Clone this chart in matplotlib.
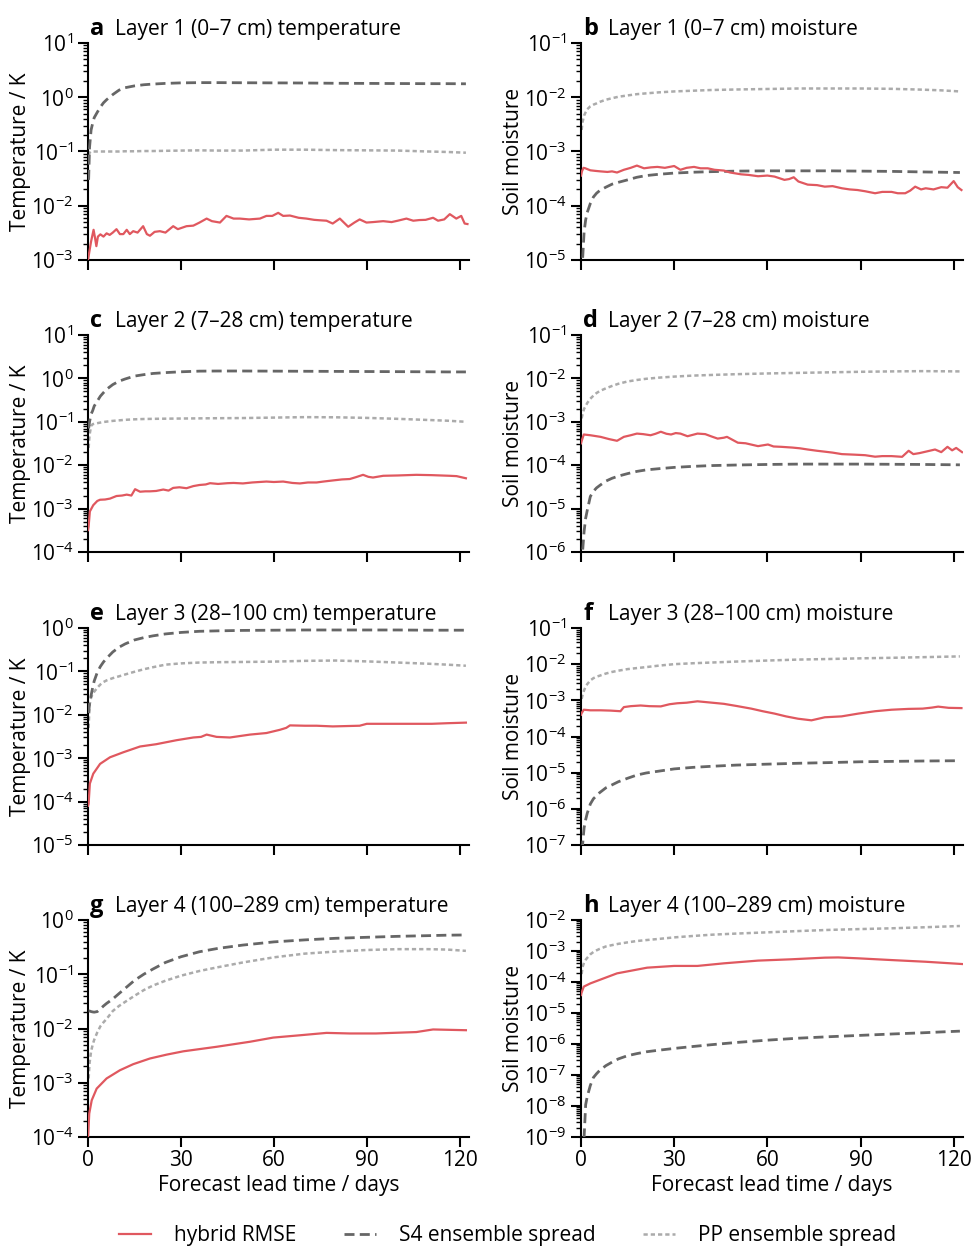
import numpy as np
import matplotlib
matplotlib.use('Agg')
import matplotlib.pyplot as plt
from matplotlib.ticker import LogLocator, NullFormatter
from matplotlib.lines import Line2D

plt.rcParams['font.family'] = ['Open Sans', 'DejaVu Sans']
plt.rcParams['mathtext.fontset'] = 'custom'
plt.rcParams['mathtext.rm'] = 'Open Sans'
plt.rcParams['mathtext.it'] = 'Open Sans:italic'
plt.rcParams['mathtext.bf'] = 'Open Sans:bold'
plt.rcParams['axes.unicode_minus'] = False

# common lead times (days) for the two ensemble spread curves
t_spread = [0.2, 0.5, 1, 1.5, 2, 3, 4, 5, 6, 8, 10, 12, 15, 18, 21, 25, 30,
            36, 42, 50, 60, 70, 80, 90, 100, 110, 116, 122]

a_s4 = [0.03, 0.12, 0.25, 0.33, 0.42, 0.53, 0.66, 0.79, 0.9, 1.12, 1.35, 1.5, 1.62, 1.7,
        1.75, 1.8, 1.84, 1.86, 1.86, 1.85, 1.84, 1.83, 1.81, 1.80, 1.79, 1.78, 1.78, 1.77]
a_pp = [0.085, 0.095, 0.1, 0.1, 0.1, 0.1, 0.1, 0.1, 0.1, 0.1, 0.1, 0.101, 0.101, 0.102,
        0.102, 0.103, 0.104, 0.105, 0.104, 0.104, 0.108, 0.108, 0.106, 0.105, 0.104, 0.1,
        0.098, 0.095]
b_s4 = [3e-6, 1e-5, 3.3e-5, 5.5e-5, 7.5e-5, 1.1e-4, 1.45e-4, 1.7e-4, 1.9e-4, 2.2e-4,
        2.5e-4, 2.7e-4, 3.0e-4, 3.35e-4, 3.6e-4, 3.8e-4, 4.0e-4, 4.15e-4, 4.25e-4, 4.35e-4,
        4.4e-4, 4.4e-4, 4.4e-4, 4.35e-4, 4.3e-4, 4.2e-4, 4.15e-4, 4.1e-4]
b_pp = [2.5e-3, 3.5e-3, 4.6e-3, 5.3e-3, 6.0e-3, 6.8e-3, 7.3e-3, 7.7e-3, 8.2e-3, 9.0e-3,
        9.6e-3, 0.0102, 0.0108, 0.0114, 0.0118, 0.0123, 0.0128, 0.0132, 0.0136, 0.0139,
        0.0142, 0.0145, 0.0145, 0.0145, 0.0143, 0.0138, 0.0134, 0.0128]
c_s4 = [0.07, 0.1, 0.15, 0.18, 0.23, 0.3, 0.39, 0.47, 0.56, 0.72, 0.86, 0.97, 1.13, 1.22,
        1.3, 1.36, 1.42, 1.47, 1.48, 1.48, 1.47, 1.46, 1.45, 1.44, 1.43, 1.42, 1.41, 1.41]
c_pp = [0.025, 0.05, 0.08, 0.088, 0.09, 0.093, 0.096, 0.099, 0.101, 0.105, 0.108, 0.111,
        0.114, 0.116, 0.117, 0.118, 0.119, 0.12, 0.121, 0.122, 0.125, 0.128, 0.127, 0.123,
        0.117, 0.11, 0.106, 0.1]
d_s4 = [1e-7, 1e-6, 3e-6, 6e-6, 9e-6, 1.9e-5, 2.5e-5, 3e-5, 3.4e-5, 4.3e-5, 5e-5, 5.6e-5,
        6.4e-5, 7.2e-5, 7.8e-5, 8.3e-5, 8.9e-5, 9.4e-5, 9.8e-5, 1.01e-4, 1.04e-4, 1.06e-4,
        1.06e-4, 1.06e-4, 1.05e-4, 1.04e-4, 1.03e-4, 1.02e-4]
d_pp = [1.2e-3, 1.5e-3, 2.0e-3, 2.3e-3, 2.7e-3, 3.4e-3, 4.0e-3, 4.6e-3, 5.1e-3, 5.9e-3,
        6.7e-3, 7.5e-3, 8.5e-3, 9.2e-3, 9.8e-3, 0.0104, 0.011, 0.0116, 0.012, 0.0125, 0.013,
        0.0134, 0.0138, 0.0142, 0.0145, 0.0147, 0.0146, 0.0145]
e_s4 = [0.011, 0.018, 0.028, 0.042, 0.06, 0.095, 0.13, 0.165, 0.2, 0.28, 0.36, 0.43, 0.53,
        0.6, 0.66, 0.73, 0.79, 0.84, 0.86, 0.88, 0.89, 0.9, 0.9, 0.9, 0.9, 0.89, 0.89, 0.89]
e_pp = [5e-3, 0.017, 0.025, 0.03, 0.034, 0.042, 0.05, 0.057, 0.062, 0.07, 0.077, 0.085,
        0.098, 0.112, 0.125, 0.143, 0.153, 0.16, 0.163, 0.165, 0.168, 0.175, 0.178, 0.17,
        0.16, 0.15, 0.143, 0.135]
f_s4 = [1e-8, 1e-7, 3e-7, 5e-7, 7.5e-7, 1.36e-6, 1.9e-6, 2.3e-6, 2.8e-6, 3.8e-6, 4.6e-6,
        5.6e-6, 7e-6, 8.6e-6, 9.8e-6, 1.1e-5, 1.27e-5, 1.4e-5, 1.5e-5, 1.62e-5, 1.72e-5,
        1.82e-5, 1.9e-5, 2.0e-5, 2.05e-5, 2.1e-5, 2.12e-5, 2.14e-5]
f_pp = [1.1e-3, 1.4e-3, 1.9e-3, 2.4e-3, 2.8e-3, 3.55e-3, 4.1e-3, 4.5e-3, 4.8e-3, 5.5e-3,
        6.1e-3, 6.6e-3, 7.3e-3, 7.8e-3, 8.3e-3, 9.1e-3, 0.01, 0.0106, 0.0111, 0.0118, 0.0126,
        0.0134, 0.0139, 0.0145, 0.015, 0.0156, 0.016, 0.0164]
g_s4 = [0.021, 0.021, 0.0205, 0.0202, 0.02, 0.0205, 0.023, 0.026, 0.029, 0.035, 0.044,
        0.055, 0.077, 0.1, 0.125, 0.165, 0.21, 0.26, 0.3, 0.345, 0.395, 0.43, 0.46, 0.48,
        0.5, 0.515, 0.525, 0.53]
g_pp = [1.2e-3, 2.3e-3, 3.8e-3, 5e-3, 6.2e-3, 8.5e-3, 0.011, 0.013, 0.015, 0.021, 0.026,
        0.031, 0.04, 0.051, 0.062, 0.076, 0.094, 0.115, 0.135, 0.165, 0.205, 0.24, 0.262,
        0.28, 0.29, 0.29, 0.285, 0.27]
h_s4 = [1e-10, 1e-10, 1e-9, 1.1e-8, 2.0e-8, 4.6e-8, 8.3e-8, 1.1e-7, 1.4e-7, 2.0e-7, 2.6e-7,
        3.3e-7, 4.2e-7, 4.9e-7, 5.6e-7, 6.3e-7, 7.2e-7, 8.3e-7, 9.5e-7, 1.12e-6, 1.33e-6,
        1.54e-6, 1.72e-6, 1.9e-6, 2.1e-6, 2.3e-6, 2.45e-6, 2.6e-6]
h_pp = [1.8e-4, 3e-4, 4.3e-4, 5.2e-4, 6e-4, 7.8e-4, 9.3e-4, 1.05e-3, 1.17e-3, 1.4e-3,
        1.55e-3, 1.7e-3, 1.9e-3, 2.1e-3, 2.25e-3, 2.45e-3, 2.75e-3, 3.05e-3, 3.35e-3,
        3.65e-3, 4.0e-3, 4.4e-3, 4.8e-3, 5.1e-3, 5.4e-3, 5.8e-3, 6.1e-3, 6.4e-3]

# hybrid RMSE, own lead times per panel
a_hyb_t = [0, 0.5, 1, 1.8, 2.3, 2.7, 3.2, 4, 5, 6, 7, 8, 9.2, 10.3, 11.4, 12.5, 13.5, 14.6,
           16, 17.8, 19, 20, 21.5, 23.2, 25, 27.5, 29, 31.8, 34, 36, 38.3, 40, 42.6, 44.7,
           47, 49, 52, 55.5, 57.6, 59.5, 61.4, 63, 65.2, 68, 70.5, 73, 74.8, 77, 79, 81.3,
           84, 86, 87.7, 89.9, 92, 95.3, 98, 100, 102.8, 105, 107, 109, 111.4, 113, 115,
           116.8, 118.9, 120.5, 121.6, 122.5]
a_hyb = [1.0e-3, 1.5e-3, 2.2e-3, 3.6e-3, 2.5e-3, 1.8e-3, 2.7e-3, 2.97e-3, 2.7e-3, 3.1e-3,
         2.9e-3, 3.2e-3, 3.7e-3, 3.0e-3, 3.0e-3, 3.6e-3, 3.0e-3, 3.4e-3, 3.2e-3, 4.2e-3,
         3.0e-3, 2.8e-3, 3.3e-3, 3.4e-3, 3.2e-3, 4.2e-3, 3.7e-3, 4.2e-3, 4.3e-3, 4.9e-3,
         5.8e-3, 5.2e-3, 4.9e-3, 6.5e-3, 5.8e-3, 5.8e-3, 5.6e-3, 5.8e-3, 6.5e-3, 6.5e-3,
         7.4e-3, 6.5e-3, 6.6e-3, 6.0e-3, 5.8e-3, 5.5e-3, 5.4e-3, 5.3e-3, 4.7e-3, 5.8e-3,
         4.1e-3, 4.9e-3, 5.6e-3, 4.9e-3, 5.0e-3, 5.2e-3, 5.0e-3, 5.3e-3, 5.8e-3, 5.3e-3,
         5.45e-3, 5.5e-3, 6.0e-3, 5.3e-3, 5.6e-3, 7.0e-3, 5.8e-3, 6.5e-3, 4.7e-3, 4.6e-3]
b_hyb_t = [0, 0.3, 0.8, 1.4, 3, 4.5, 6.3, 8.5, 10, 11.6, 13.8, 16, 18, 20.3, 22.5, 24.6, 27,
           30, 32, 34, 36.4, 38.5, 40.8, 43, 46, 48, 51.5, 54, 57, 60, 62.3, 65.5, 67, 68.5,
           70, 73, 76, 78.5, 81, 84, 86.5, 89, 91.5, 94.7, 97, 100, 102, 104.4, 106, 107.6,
           109.5, 111, 113.5, 116, 118, 120, 121.3, 122.5]
b_hyb = [3.6e-4, 4.3e-4, 5.0e-4, 4.9e-4, 4.5e-4, 4.4e-4, 4.3e-4, 4.2e-4, 4.3e-4, 4.1e-4,
         4.6e-4, 5.0e-4, 5.5e-4, 4.9e-4, 5.1e-4, 5.2e-4, 5.0e-4, 5.4e-4, 4.6e-4, 5.0e-4,
         5.2e-4, 4.9e-4, 4.9e-4, 4.6e-4, 4.45e-4, 4.1e-4, 3.8e-4, 3.7e-4, 3.5e-4, 3.6e-4,
         3.45e-4, 3.0e-4, 3.1e-4, 3.35e-4, 2.8e-4, 2.45e-4, 2.4e-4, 2.25e-4, 2.3e-4, 2.1e-4,
         2.0e-4, 1.95e-4, 1.85e-4, 1.7e-4, 1.8e-4, 1.8e-4, 1.7e-4, 1.7e-4, 1.9e-4, 2.25e-4,
         2.0e-4, 2.1e-4, 2.0e-4, 2.2e-4, 2.15e-4, 2.85e-4, 2.2e-4, 1.95e-4]
c_hyb_t = [0, 0.2, 0.6, 1.7, 3, 3.9, 5.5, 7.1, 9.2, 11, 12.5, 14, 15.2, 16.8, 18.5, 20, 22,
           24.3, 26, 27.5, 29.5, 31.8, 34, 36, 38, 39.4, 42, 45, 47, 50, 53, 57.6, 60, 63,
           66, 68.4, 71, 73.8, 76, 79, 82, 84.5, 86.5, 88.8, 90.5, 92, 95.3, 100, 106, 111,
           116.8, 119, 122]
c_hyb = [3.2e-4, 3.9e-4, 8.6e-4, 1.2e-3, 1.5e-3, 1.6e-3, 1.62e-3, 1.7e-3, 1.95e-3, 2.0e-3,
         2.1e-3, 2.0e-3, 2.8e-3, 2.45e-3, 2.5e-3, 2.5e-3, 2.55e-3, 2.75e-3, 2.6e-3, 3.0e-3,
         3.1e-3, 2.95e-3, 3.3e-3, 3.5e-3, 3.6e-3, 3.85e-3, 3.7e-3, 3.85e-3, 3.9e-3, 3.8e-3,
         4.0e-3, 4.2e-3, 4.1e-3, 4.2e-3, 3.9e-3, 3.8e-3, 4.0e-3, 4.0e-3, 4.2e-3, 4.45e-3,
         4.7e-3, 4.8e-3, 5.3e-3, 6.0e-3, 5.4e-3, 5.2e-3, 5.7e-3, 5.8e-3, 6.0e-3, 5.9e-3,
         5.7e-3, 5.6e-3, 5.0e-3]
d_hyb_t = [0, 0.2, 0.9, 3, 6.3, 9, 11.6, 13.8, 16, 18, 20, 22.4, 24, 25.7, 27.5, 29, 30.5,
           32, 34.3, 37.5, 40, 42, 44, 46, 47, 50.5, 53, 57, 60.2, 62, 64.5, 68, 70.5, 73,
           76, 78.5, 81, 84, 88, 91.5, 94.7, 97, 100, 103.4, 105.5, 107, 109, 111, 114, 116,
           118, 119.5, 120.8, 122.7]
d_hyb = [3.2e-4, 3.6e-4, 5.1e-4, 4.9e-4, 4.5e-4, 4.0e-4, 3.65e-4, 4.5e-4, 4.9e-4, 5.35e-4,
         5.2e-4, 4.9e-4, 5.3e-4, 5.9e-4, 5.3e-4, 5.1e-4, 5.5e-4, 5.35e-4, 4.65e-4, 5.35e-4,
         5.2e-4, 4.6e-4, 4.1e-4, 4.3e-4, 4.5e-4, 3.3e-4, 3.2e-4, 2.75e-4, 3.0e-4, 2.7e-4,
         2.65e-4, 2.55e-4, 2.45e-4, 2.3e-4, 2.15e-4, 2.05e-4, 1.95e-4, 1.8e-4, 1.75e-4,
         1.7e-4, 1.57e-4, 1.62e-4, 1.62e-4, 1.56e-4, 2.15e-4, 1.8e-4, 1.9e-4, 2.05e-4,
         2.3e-4, 2.0e-4, 2.65e-4, 2.2e-4, 2.5e-4, 2.0e-4]
e_hyb_t = [0, 0.2, 0.6, 1.7, 3.9, 7.1, 11.4, 16.8, 22, 28.6, 34, 36.5, 38.3, 41.5, 45.8,
           52.3, 57.6, 61.9, 64, 65.2, 70, 73.8, 79, 87.7, 90, 100.6, 111, 116, 122]
e_hyb = [8e-5, 9e-5, 2.6e-4, 4.4e-4, 7.4e-4, 1.05e-3, 1.37e-3, 1.86e-3, 2.1e-3, 2.6e-3,
         3.0e-3, 3.1e-3, 3.5e-3, 3.1e-3, 3.0e-3, 3.5e-3, 3.8e-3, 4.5e-3, 5.0e-3, 5.7e-3,
         5.6e-3, 5.6e-3, 5.4e-3, 5.6e-3, 6.2e-3, 6.2e-3, 6.2e-3, 6.4e-3, 6.6e-3]
f_hyb_t = [0, 0.1, 0.9, 3, 6.3, 9.5, 12.7, 13.8, 16, 19.2, 22, 25.7, 28.5, 31, 34, 37.5, 41,
           46, 50, 54.8, 58.5, 62.3, 66, 69.9, 74.2, 78.5, 83.9, 89.3, 94.7, 100, 105.5, 110,
           113, 115, 118.4, 122.5]
f_hyb = [4.0e-4, 4.3e-4, 5.5e-4, 5.3e-4, 5.3e-4, 5.2e-4, 5.0e-4, 6.5e-4, 6.9e-4, 7.2e-4,
         6.9e-4, 6.8e-4, 7.8e-4, 8.3e-4, 8.6e-4, 9.4e-4, 8.8e-4, 8.0e-4, 7.0e-4, 5.9e-4,
         5.0e-4, 4.3e-4, 3.6e-4, 3.1e-4, 2.8e-4, 3.4e-4, 3.6e-4, 4.3e-4, 5.0e-4, 5.5e-4,
         5.8e-4, 5.9e-4, 6.3e-4, 6.7e-4, 6.2e-4, 6.1e-4]
g_hyb_t = [0, 0.1, 0.4, 1.2, 2.8, 6, 10.3, 14.6, 20, 25.4, 30.8, 41.5, 52.3, 59.8, 68.4, 77,
           84.5, 93, 106, 111.4, 122]
g_hyb = [1.0e-4, 1.2e-4, 2.7e-4, 4.75e-4, 7.8e-4, 1.2e-3, 1.7e-3, 2.2e-3, 2.8e-3, 3.3e-3,
         3.8e-3, 4.6e-3, 5.7e-3, 6.8e-3, 7.5e-3, 8.3e-3, 8.1e-3, 8.1e-3, 8.6e-3, 9.6e-3,
         9.3e-3]
h_hyb_t = [0, 0.1, 0.9, 3, 6.3, 11.6, 16, 21.3, 30, 37.5, 46, 57, 67.7, 78.5, 82.8, 89.3,
           100, 111, 122.7]
h_hyb = [3.8e-5, 4.3e-5, 7.1e-5, 9.0e-5, 1.2e-4, 1.9e-4, 2.3e-4, 2.9e-4, 3.3e-4, 3.3e-4,
         4.0e-4, 4.9e-4, 5.4e-4, 6.1e-4, 6.2e-4, 5.8e-4, 5.1e-4, 4.5e-4, 3.8e-4]

letters = ['a', 'b', 'c', 'd', 'e', 'f', 'g', 'h']
titles = ['Layer 1 (0\u20137 cm) temperature', 'Layer 1 (0\u20137 cm) moisture',
          'Layer 2 (7\u201328 cm) temperature', 'Layer 2 (7\u201328 cm) moisture',
          'Layer 3 (28\u2013100 cm) temperature', 'Layer 3 (28\u2013100 cm) moisture',
          'Layer 4 (100\u2013289 cm) temperature', 'Layer 4 (100\u2013289 cm) moisture']
ylims = [(1e-3, 1e1), (1e-5, 1e-1), (1e-4, 1e1), (1e-6, 1e-1),
         (1e-5, 1e0), (1e-7, 1e-1), (1e-4, 1e0), (1e-9, 1e-2)]

hyb_t = [a_hyb_t, b_hyb_t, c_hyb_t, d_hyb_t, e_hyb_t, f_hyb_t, g_hyb_t, h_hyb_t]
hyb = [a_hyb, b_hyb, c_hyb, d_hyb, e_hyb, f_hyb, g_hyb, h_hyb]
s4 = [a_s4, b_s4, c_s4, d_s4, e_s4, f_s4, g_s4, h_s4]
pp = [a_pp, b_pp, c_pp, d_pp, e_pp, f_pp, g_pp, h_pp]

red = '#e0585f'
dark = '#666666'
light = '#ababab'
fs = 15

W, H = 971, 1247
fig = plt.figure(figsize=(W / 100, H / 100), dpi=100)

col_x = [88, 581]
col_w = [381, 382]
row_top = [43, 335, 628, 920]
row_h = 217

for i in range(8):
    r, c = i // 2, i % 2
    ax = fig.add_axes([col_x[c] / W, 1 - (row_top[r] + row_h) / H, col_w[c] / W, row_h / H])

    ax.plot(t_spread, pp[i], color=light, lw=1.8, dashes=(1.7, 1.2), zorder=2)
    ax.plot(t_spread, s4[i], color=dark, lw=2.0, dashes=(3.6, 1.9), zorder=3)
    ax.plot(hyb_t[i], hyb[i], color=red, lw=1.6, zorder=4)

    ax.set_yscale('log')
    ax.set_ylim(ylims[i])
    ax.set_xlim(0, 123)
    ax.set_xticks([0, 30, 60, 90, 120])
    ax.yaxis.set_major_locator(LogLocator(base=10, numticks=20))
    ax.yaxis.set_minor_locator(LogLocator(base=10, subs=np.arange(2, 10), numticks=200))
    ax.yaxis.set_minor_formatter(NullFormatter())

    for s in ['top', 'right']:
        ax.spines[s].set_visible(False)
    for s in ['left', 'bottom']:
        ax.spines[s].set_linewidth(1.5)
    ax.tick_params(which='major', length=7.5, width=1.5, labelsize=fs, pad=2)
    ax.tick_params(which='minor', length=3.5, width=1.0)
    ax.tick_params(axis='y', which='major', pad=3)

    if r < 3:
        ax.tick_params(labelbottom=False)
    else:
        ax.set_xlabel('Forecast lead time / days', fontsize=fs, labelpad=3)

    ax.set_ylabel('Temperature / K' if c == 0 else 'Soil moisture', fontsize=fs)
    ax.yaxis.set_label_coords(-0.15, 0.5)

    ax.text(0.006, 1.035, letters[i], transform=ax.transAxes, fontsize=17,
            fontweight='bold', va='baseline', ha='left')
    ax.text(0.07, 1.035, titles[i], transform=ax.transAxes, fontsize=fs,
            va='baseline', ha='left')

handles = [Line2D([], [], color=red, lw=1.6),
           Line2D([], [], color=dark, lw=2.0, dashes=(3.6, 1.9)),
           Line2D([], [], color=light, lw=1.8, dashes=(1.7, 1.2))]
fig.legend(handles, ['hybrid RMSE', 'S4 ensemble spread', 'PP ensemble spread'],
           loc='center left', bbox_to_anchor=(0.103, 1 - 1236 / H), ncol=3, frameon=False,
           fontsize=fs, handlelength=1.53, handletextpad=1.1, columnspacing=2.3)

fig.savefig('out.png', dpi=100)
